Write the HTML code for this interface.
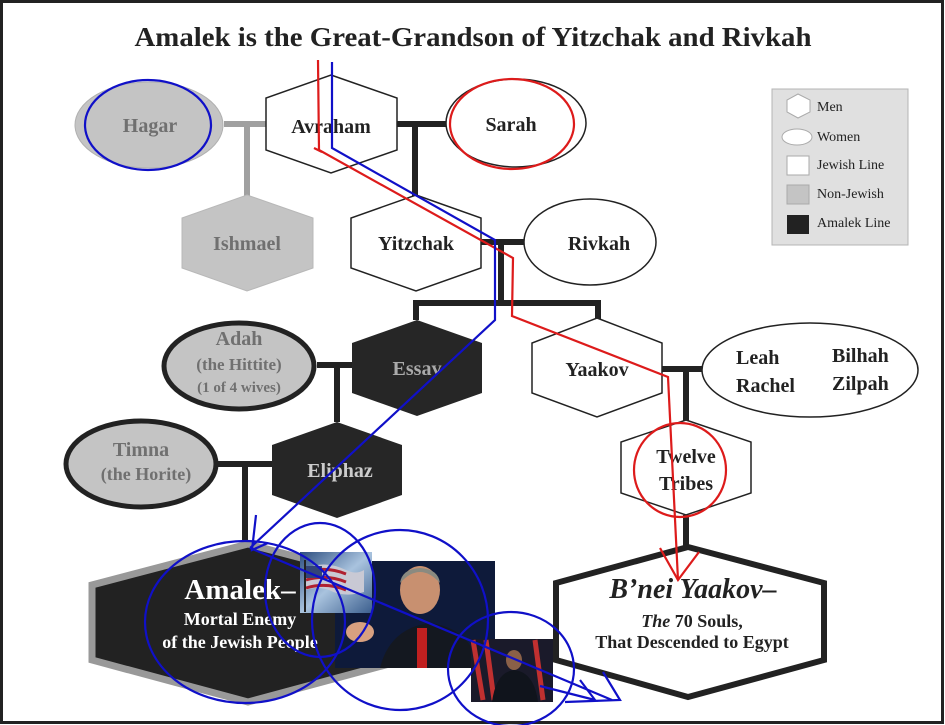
<!DOCTYPE html>
<html><head><meta charset="utf-8"><style>
html,body{margin:0;padding:0;background:#fff}
svg{display:block}
text{font-family:"Liberation Serif",serif}
</style></head><body>
<svg width="945" height="725" viewBox="0 0 945 725" xmlns="http://www.w3.org/2000/svg">
<rect x="0" y="0" width="945" height="725" fill="#fff"/>
<rect x="1.5" y="1.5" width="941" height="721" fill="none" stroke="#222" stroke-width="3"/>
<text x="473" y="46" font-size="27" font-weight="bold" text-anchor="middle" fill="#222" textLength="677" lengthAdjust="spacingAndGlyphs">Amalek is the Great-Grandson of Yitzchak and Rivkah</text>

<!-- connectors -->
<g stroke="#a0a0a0" stroke-width="6" fill="none">
<line x1="224" y1="124" x2="266" y2="124"/>
<line x1="247" y1="124" x2="247" y2="196"/>
</g>
<g stroke="#222" stroke-width="6" fill="none">
<line x1="397" y1="124" x2="446" y2="124"/>
<line x1="415" y1="124" x2="415" y2="196"/>
<line x1="481" y1="242" x2="525" y2="242"/>
<line x1="501" y1="242" x2="501" y2="303"/>
<polyline points="416,320 416,303 598,303 598,320"/>
<line x1="317" y1="365" x2="352" y2="365"/>
<line x1="337" y1="365" x2="337" y2="422"/>
<line x1="662" y1="369" x2="702" y2="369"/>
<line x1="686" y1="369" x2="686" y2="421"/>
<line x1="686" y1="515" x2="686" y2="548"/>
<line x1="218" y1="464" x2="272" y2="464"/>
<line x1="245" y1="464" x2="245" y2="548"/>
</g>

<!-- Hagar -->
<ellipse cx="149" cy="125" rx="74" ry="43" fill="#c4c4c4" stroke="#b0b0b0"/>
<text x="150" y="132" font-size="20" font-weight="bold" fill="#707070" text-anchor="middle">Hagar</text>
<!-- Avraham -->
<polygon points="331,75 397,98 397,150 331,173 266,150 266,98" fill="#fff" stroke="#222" stroke-width="1.5"/>
<text x="331" y="133" font-size="20" font-weight="bold" fill="#222" text-anchor="middle">Avraham</text>
<!-- Sarah -->
<ellipse cx="516" cy="123" rx="70" ry="44" fill="#fff" stroke="#222" stroke-width="1.5"/>
<text x="511" y="131" font-size="20" font-weight="bold" fill="#222" text-anchor="middle">Sarah</text>
<!-- Ishmael -->
<polygon points="247,195 313,218 313,268 247,291 182,268 182,218" fill="#c4c4c4" stroke="#b8b8b8"/>
<text x="247" y="250" font-size="20" font-weight="bold" fill="#707070" text-anchor="middle">Ishmael</text>
<!-- Yitzchak -->
<polygon points="416,195 481,218 481,268 416,291 351,268 351,218" fill="#fff" stroke="#222" stroke-width="1.5"/>
<text x="416" y="250" font-size="20" font-weight="bold" fill="#222" text-anchor="middle">Yitzchak</text>
<!-- Rivkah -->
<ellipse cx="590" cy="242" rx="66" ry="43" fill="#fff" stroke="#222" stroke-width="1.5"/>
<text x="599" y="250" font-size="20" font-weight="bold" fill="#222" text-anchor="middle">Rivkah</text>

<!-- Essav -->
<polygon points="417,320 482,343 482,393 417,416 352,393 352,343" fill="#262626"/>
<text x="417" y="375" font-size="20" font-weight="bold" fill="#aaa" text-anchor="middle">Essav</text>
<!-- Yaakov -->
<polygon points="597,318 662,343 662,393 597,417 532,393 532,343" fill="#fff" stroke="#222" stroke-width="1.5"/>
<text x="597" y="376" font-size="20" font-weight="bold" fill="#222" text-anchor="middle">Yaakov</text>
<!-- Adah -->
<ellipse cx="239" cy="366" rx="75" ry="43" fill="#c4c4c4" stroke="#222" stroke-width="5"/>
<text x="239" y="345" font-size="20" font-weight="bold" fill="#707070" text-anchor="middle">Adah</text>
<text x="239" y="370" font-size="17" font-weight="bold" fill="#707070" text-anchor="middle">(the Hittite)</text>
<text x="239" y="392" font-size="15" font-weight="bold" fill="#707070" text-anchor="middle">(1 of 4 wives)</text>
<!-- Leah etc -->
<ellipse cx="810" cy="370" rx="108" ry="47" fill="#fff" stroke="#222" stroke-width="1.5"/>
<g font-size="20" font-weight="bold" fill="#222">
<text x="736" y="364">Leah</text><text x="736" y="392">Rachel</text>
<text x="832" y="362">Bilhah</text><text x="832" y="390">Zilpah</text>
</g>
<!-- Timna -->
<ellipse cx="141" cy="464" rx="75" ry="43" fill="#c4c4c4" stroke="#222" stroke-width="5"/>
<text x="141" y="456" font-size="20" font-weight="bold" fill="#707070" text-anchor="middle">Timna</text>
<text x="146" y="480" font-size="18" font-weight="bold" fill="#707070" text-anchor="middle">(the Horite)</text>
<!-- Eliphaz -->
<polygon points="337,422 402,445 402,495 337,518 272,495 272,445" fill="#262626"/>
<text x="340" y="477" font-size="20" font-weight="bold" fill="#ccc" text-anchor="middle">Eliphaz</text>
<!-- Twelve Tribes -->
<polygon points="686,420 751,442 751,493 686,515 621,493 621,442" fill="#fff" stroke="#222" stroke-width="1.5"/>
<text x="686" y="463" font-size="20" font-weight="bold" fill="#222" text-anchor="middle">Twelve</text>
<text x="686" y="490" font-size="20" font-weight="bold" fill="#222" text-anchor="middle">Tribes</text>

<!-- Amalek -->
<polygon points="248,544 404,585 404,660 248,702 92,660 92,585" fill="#222" stroke="#999" stroke-width="7"/>
<text x="240" y="599" font-size="29" font-weight="bold" fill="#fff" text-anchor="middle">Amalek–</text>
<text x="240" y="625" font-size="18" font-weight="bold" fill="#fff" text-anchor="middle">Mortal Enemy</text>
<text x="240" y="648" font-size="18" font-weight="bold" fill="#fff" text-anchor="middle">of the Jewish People</text>
<!-- B'nei Yaakov -->
<polygon points="688,547 824,583 824,660 688,697 556,660 556,583" fill="#fff" stroke="#222" stroke-width="6"/>
<text x="693" y="598" font-size="28" font-style="italic" font-weight="bold" fill="#222" text-anchor="middle">B’nei Yaakov–</text>
<text x="692" y="627" font-size="18" font-weight="bold" fill="#222" text-anchor="middle"><tspan font-style="italic">The</tspan> 70 Souls,</text>
<text x="692" y="648" font-size="18" font-weight="bold" fill="#222" text-anchor="middle">That Descended to Egypt</text>

<!-- images -->
<defs>
<linearGradient id="sky" x1="0" y1="0" x2="1" y2="1"><stop offset="0" stop-color="#2d4f80"/><stop offset="0.5" stop-color="#a9c3de"/><stop offset="1" stop-color="#3c5f8e"/></linearGradient>
</defs>
<rect x="300" y="552" width="72" height="61" fill="url(#sky)"/>
<path d="M306,568 q20,-8 40,2 q10,5 18,0 l0,22 q-20,6 -35,-2 q-12,-4 -23,0z" fill="#c9c9d4"/>
<path d="M306,572 q20,-6 40,2 M306,580 q20,-6 40,2 M306,588 q20,-6 40,2" stroke="#b02030" stroke-width="3" fill="none"/>
<rect x="306" y="566" width="16" height="12" fill="#334477"/>
<line x1="305" y1="560" x2="305" y2="612" stroke="#222" stroke-width="2"/>
<rect x="372" y="561" width="123" height="107" fill="#0e1a3a"/>
<rect x="335" y="613" width="37" height="55" fill="#0e1a3a"/>
<path d="M380,668 q10,-40 50,-45 q40,5 50,45z" fill="#141820"/>
<rect x="417" y="628" width="10" height="40" fill="#c02020"/>
<ellipse cx="420" cy="590" rx="20" ry="24" fill="#c89070"/>
<path d="M400,583 q20,-22 40,0 q-2,-14 -20,-15 q-18,1 -20,15z" fill="#8a8a80"/>
<ellipse cx="360" cy="632" rx="14" ry="10" fill="#d8a080"/>
<rect x="471" y="639" width="82" height="63" fill="#1a1a2a"/>
<path d="M473,640 l10,60 M486,640 l8,60 M535,640 l8,60" stroke="#c03030" stroke-width="5"/>
<path d="M492,702 q4,-30 22,-32 q20,2 24,32z" fill="#10141c"/>
<ellipse cx="514" cy="660" rx="8" ry="10" fill="#8a6048"/>

<!-- legend -->
<rect x="772" y="89" width="136" height="156" fill="#e0e0e0" stroke="#b5b5b5"/>
<polygon points="798,94 810,100 810,112 798,118 787,112 787,100" fill="#fff" stroke="#aaa"/>
<ellipse cx="797" cy="137" rx="15" ry="8" fill="#fff" stroke="#aaa"/>
<rect x="787" y="156" width="22" height="19" fill="#fff" stroke="#aaa"/>
<rect x="787" y="185" width="22" height="19" fill="#c4c4c4" stroke="#aaa"/>
<rect x="787" y="215" width="22" height="19" fill="#222"/>
<g font-size="14" fill="#222">
<text x="817" y="111">Men</text><text x="817" y="141">Women</text><text x="817" y="169">Jewish Line</text><text x="817" y="198">Non-Jewish</text><text x="817" y="227">Amalek Line</text>
</g>

<!-- red annotations -->
<g stroke="#dd1b1b" stroke-width="2.2" fill="none">
<ellipse cx="512" cy="124" rx="62" ry="45"/>
<ellipse cx="680" cy="470" rx="46" ry="47"/>
<polyline points="318,60 319,150 513,258 512,316 668,377 678,580"/>
<polyline points="660,548 678,580 699,552"/>
<line x1="314" y1="148" x2="322" y2="152"/>
</g>
<!-- blue annotations -->
<g stroke="#1010c8" stroke-width="2.2" fill="none">
<ellipse cx="148" cy="125" rx="63" ry="45"/>
<ellipse cx="245" cy="622" rx="100" ry="81"/>
<ellipse cx="320" cy="590" rx="55" ry="67"/>
<ellipse cx="400" cy="620" rx="88" ry="90"/>
<ellipse cx="511" cy="669" rx="63" ry="57"/>
<polyline points="332,62 332,148 495,240 495,320 250,548"/>
<polyline points="256,515 252,550 268,543"/>
<line x1="250" y1="548" x2="612" y2="700"/>
<polyline points="540,686 595,700 580,680"/>
<polyline points="565,702 620,700 603,672"/>
</g>
</svg>
</body></html>
